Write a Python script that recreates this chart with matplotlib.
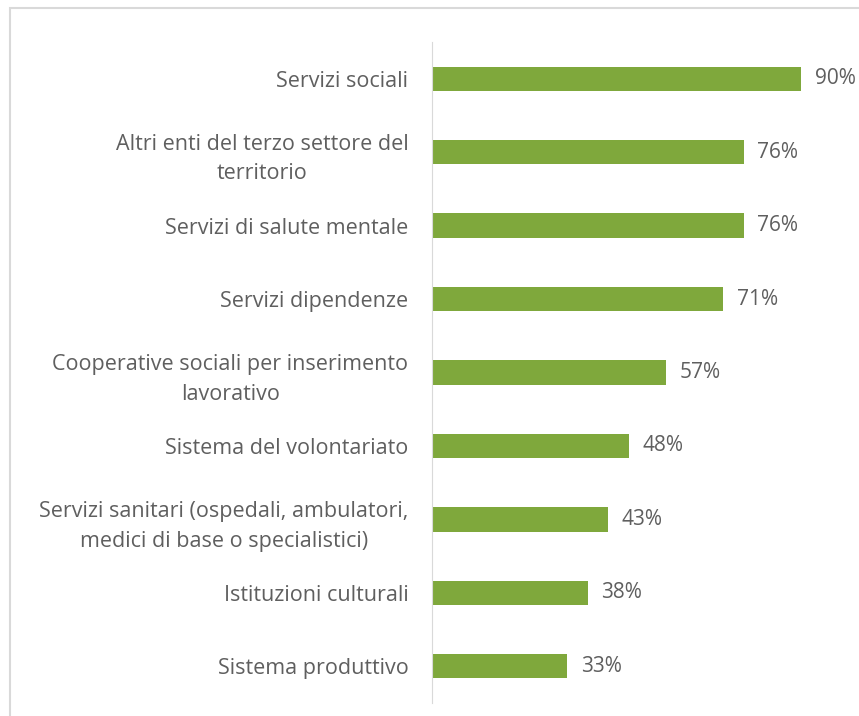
import matplotlib.pyplot as plt
from matplotlib.patches import Rectangle

# categories top to bottom, and their shares in percent
categories = [
    "Servizi sociali",
    "Altri enti del terzo settore del\nterritorio",
    "Servizi di salute mentale",
    "Servizi dipendenze",
    "Cooperative sociali per inserimento\nlavorativo",
    "Sistema del volontariato",
    "Servizi sanitari (ospedali, ambulatori,\nmedici di base o specialistici)",
    "Istituzioni culturali",
    "Sistema produttivo",
]
values = [90, 76, 76, 71, 57, 48, 43, 38, 33]

bar_color = "#7fa83c"
text_color = "#5f5f5f"

plt.rcParams['font.family'] = ['Open Sans', 'DejaVu Sans']

fig = plt.figure(figsize=(8.59, 7.16), dpi=100)
# light frame around the chart area, like the exported Excel chart
fig.patches.append(Rectangle((10 / 859, -0.05), 1.0, 1 - 8 / 716 + 0.05,
                             transform=fig.transFigure, fill=False,
                             edgecolor="#d9d9d9", linewidth=1.5))

ax = fig.add_axes([432 / 859, 1 - 703 / 716, 410 / 859, (703 - 42) / 716])

y = list(range(len(categories)))
ax.barh(y, values, height=0.33, color=bar_color)

for yi, v in zip(y, values):
    ax.text(v + 3.3, yi, f"{v}%", va='center', ha='left', fontsize=15, color=text_color)

ax.set_xlim(0, 100)
ax.set_ylim(len(categories) - 0.5, -0.5)
ax.set_yticks(y)
ax.set_yticklabels(categories, fontsize=15.5, color=text_color, ha='right',
                   multialignment='center', linespacing=1.55)
ax.tick_params(axis='y', length=0, pad=17)
ax.set_xticks([])

for side in ['top', 'right', 'bottom']:
    ax.spines[side].set_visible(False)
ax.spines['left'].set_color("#d9d9d9")

fig.savefig("out.png", dpi=100)
